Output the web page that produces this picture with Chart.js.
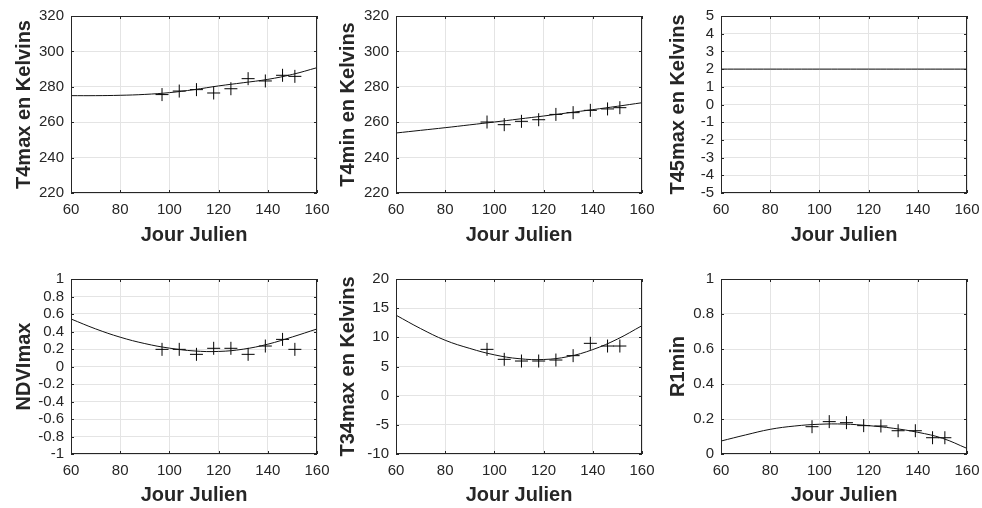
<!DOCTYPE html>
<html>
<head>
<meta charset="utf-8">
<script src="https://cdn.jsdelivr.net/npm/chart.js@4.4.0/dist/chart.umd.min.js"></script>
<style>
  body { margin: 0; background: #fff; }
  #fig { position: relative; width: 982px; height: 508px; }
  #fig canvas { position: absolute; }
</style>
</head>
<body>
<div id="fig">
  <canvas id="c1" width="335" height="254" style="left:0px;top:0px"></canvas>
  <canvas id="c2" width="325" height="254" style="left:335px;top:0px"></canvas>
  <canvas id="c3" width="322" height="254" style="left:660px;top:0px"></canvas>
  <canvas id="c4" width="335" height="254" style="left:0px;top:254px"></canvas>
  <canvas id="c5" width="325" height="254" style="left:335px;top:254px"></canvas>
  <canvas id="c6" width="322" height="254" style="left:660px;top:254px"></canvas>
</div>
<script>
// observed days (jour julien) and the days where the fitted curves were read
const days = [97, 104, 111, 118, 125, 132, 139, 146, 151];
const curveDays = [60, 70, 80, 90, 100, 110, 120, 130, 140, 150, 160];

const t4max = [275.6, 277.6, 278.4, 276.5, 278.9, 284.6, 283.3, 286.5, 285.9];
const t4maxCurve = [275.0, 275.0, 275.2, 275.7, 276.7, 278.4, 280.5, 282.3, 284.2, 287.0, 290.8];

const t4min = [260.1, 258.6, 260.5, 261.4, 264.4, 265.4, 266.7, 267.5, 268.2];
const t4minCurve = [253.9, 255.4, 256.9, 258.5, 260.1, 261.8, 263.5, 265.3, 267.1, 269.0, 271.0];

const t45max = [];
const t45maxCurve = [2, 2, 2, 2, 2, 2, 2, 2, 2, 2, 2];

const ndvimax = [0.196, 0.196, 0.139, 0.208, 0.208, 0.139, 0.234, 0.310, 0.196];
const ndvimaxCurve = [0.543, 0.43, 0.335, 0.262, 0.21, 0.178, 0.172, 0.198, 0.255, 0.338, 0.429];

const t34max = [7.94, 6.23, 5.94, 5.94, 6.11, 6.86, 8.97, 8.51, 8.51];
const t34maxCurve = [13.8, 11.5, 9.5, 8.1, 7.0, 6.34, 6.2, 6.7, 7.9, 9.7, 12.0];

const r1min = [0.156, 0.185, 0.179, 0.162, 0.160, 0.133, 0.133, 0.093, 0.093];
const r1minCurve = [0.074, 0.109, 0.141, 0.160, 0.170, 0.171, 0.162, 0.147, 0.124, 0.090, 0.032];

const axisColor = "#262626";
const gridColor = "#e4e4e4";
const fontFamily = "'Liberation Sans', Arial, Helvetica, sans-serif";

// matlab style box with inward ticks on all four sides
const boxPlugin = {
  id: "box",
  afterDraw(chart) {
    const { ctx, chartArea: a, scales } = chart;
    ctx.save();
    ctx.strokeStyle = axisColor;
    ctx.lineWidth = 1;
    ctx.strokeRect(a.left + 0.5, a.top + 0.5, a.right - a.left - 1, a.bottom - a.top - 1);
    ctx.beginPath();
    scales.x.ticks.forEach((t) => {
      const px = Math.round(scales.x.getPixelForValue(t.value)) + 0.5;
      ctx.moveTo(px, a.bottom); ctx.lineTo(px, a.bottom - 3);
      ctx.moveTo(px, a.top); ctx.lineTo(px, a.top + 3);
    });
    scales.y.ticks.forEach((t) => {
      const py = Math.round(scales.y.getPixelForValue(t.value)) + 0.5;
      ctx.moveTo(a.left, py); ctx.lineTo(a.left + 3, py);
      ctx.moveTo(a.right, py); ctx.lineTo(a.right - 3, py);
    });
    ctx.stroke();
    ctx.restore();
  },
};

const fmt = (v) => String(Number(v.toFixed(1)));

function makeChart(id, yTitle, yMin, yMax, yStep, pts, curve, lay) {
  new Chart(document.getElementById(id), {
    data: {
      datasets: [
        {
          type: "line",
          data: curveDays.map((d, i) => ({ x: d, y: curve[i] })),
          borderColor: "#111",
          borderWidth: 1,
          pointRadius: 0,
          tension: 0.4,
        },
        {
          type: "scatter",
          data: pts.map((v, i) => ({ x: days[i], y: v })),
          pointStyle: "cross",
          pointRadius: 6.5,
          borderColor: "#000",
          borderWidth: 1,
        },
      ],
    },
    options: {
      responsive: false,
      animation: false,
      events: [],
      layout: { padding: { top: lay.top, right: lay.right, left: 0, bottom: 0 } },
      plugins: { legend: { display: false }, tooltip: { enabled: false } },
      scales: {
        x: {
          type: "linear",
          min: 60,
          max: 160,
          grid: { color: gridColor, drawTicks: false },
          border: { display: false },
          ticks: {
            stepSize: 20,
            autoSkip: false,
            maxRotation: 0,
            padding: 8,
            color: axisColor,
            font: { family: fontFamily, size: 15 },
          },
          title: {
            display: true,
            text: "Jour Julien",
            color: axisColor,
            font: { family: fontFamily, size: 20, weight: "bold" },
            padding: { top: 0, bottom: lay.xTitlePad },
          },
          afterFit: (scale) => {
            scale.height = lay.xh;
            scale.paddingLeft = 0;
            scale.paddingRight = 0;
          },
        },
        y: {
          min: yMin,
          max: yMax,
          grid: { color: gridColor, drawTicks: false },
          border: { display: false },
          ticks: {
            stepSize: yStep,
            autoSkip: false,
            padding: 7,
            color: axisColor,
            font: { family: fontFamily, size: 15 },
            callback: fmt,
          },
          title: {
            display: true,
            text: yTitle,
            color: axisColor,
            font: { family: fontFamily, size: 20, weight: "bold" },
            padding: { top: lay.yTitlePad, bottom: 0 },
          },
          afterFit: (scale) => {
            scale.width = lay.yw;
            scale.paddingTop = 0;
            scale.paddingBottom = 0;
          },
        },
      },
    },
    plugins: [boxPlugin],
  });
}

const row1 = { top: 16, xh: 61, xTitlePad: 7 };
const row2 = { top: 25, xh: 54, xTitlePad: 1 };
const col1 = { yw: 71, right: 18, yTitlePad: 12 };
const col2 = { yw: 61, right: 18, yTitlePad: 1.5 };
const col3 = { yw: 61, right: 15, yTitlePad: 6.5 };

makeChart("c1", "T4max en Kelvins", 220, 320, 20, t4max, t4maxCurve, { ...row1, ...col1 });
makeChart("c2", "T4min en Kelvins", 220, 320, 20, t4min, t4minCurve, { ...row1, ...col2 });
makeChart("c3", "T45max en Kelvins", -5, 5, 1, t45max, t45maxCurve, { ...row1, ...col3 });
makeChart("c4", "NDVImax", -1, 1, 0.2, ndvimax, ndvimaxCurve, { ...row2, ...col1 });
makeChart("c5", "T34max en Kelvins", -10, 20, 5, t34max, t34maxCurve, { ...row2, ...col2 });
makeChart("c6", "R1min", 0, 1, 0.2, r1min, r1minCurve, { ...row2, ...col3 });
</script>
</body>
</html>
